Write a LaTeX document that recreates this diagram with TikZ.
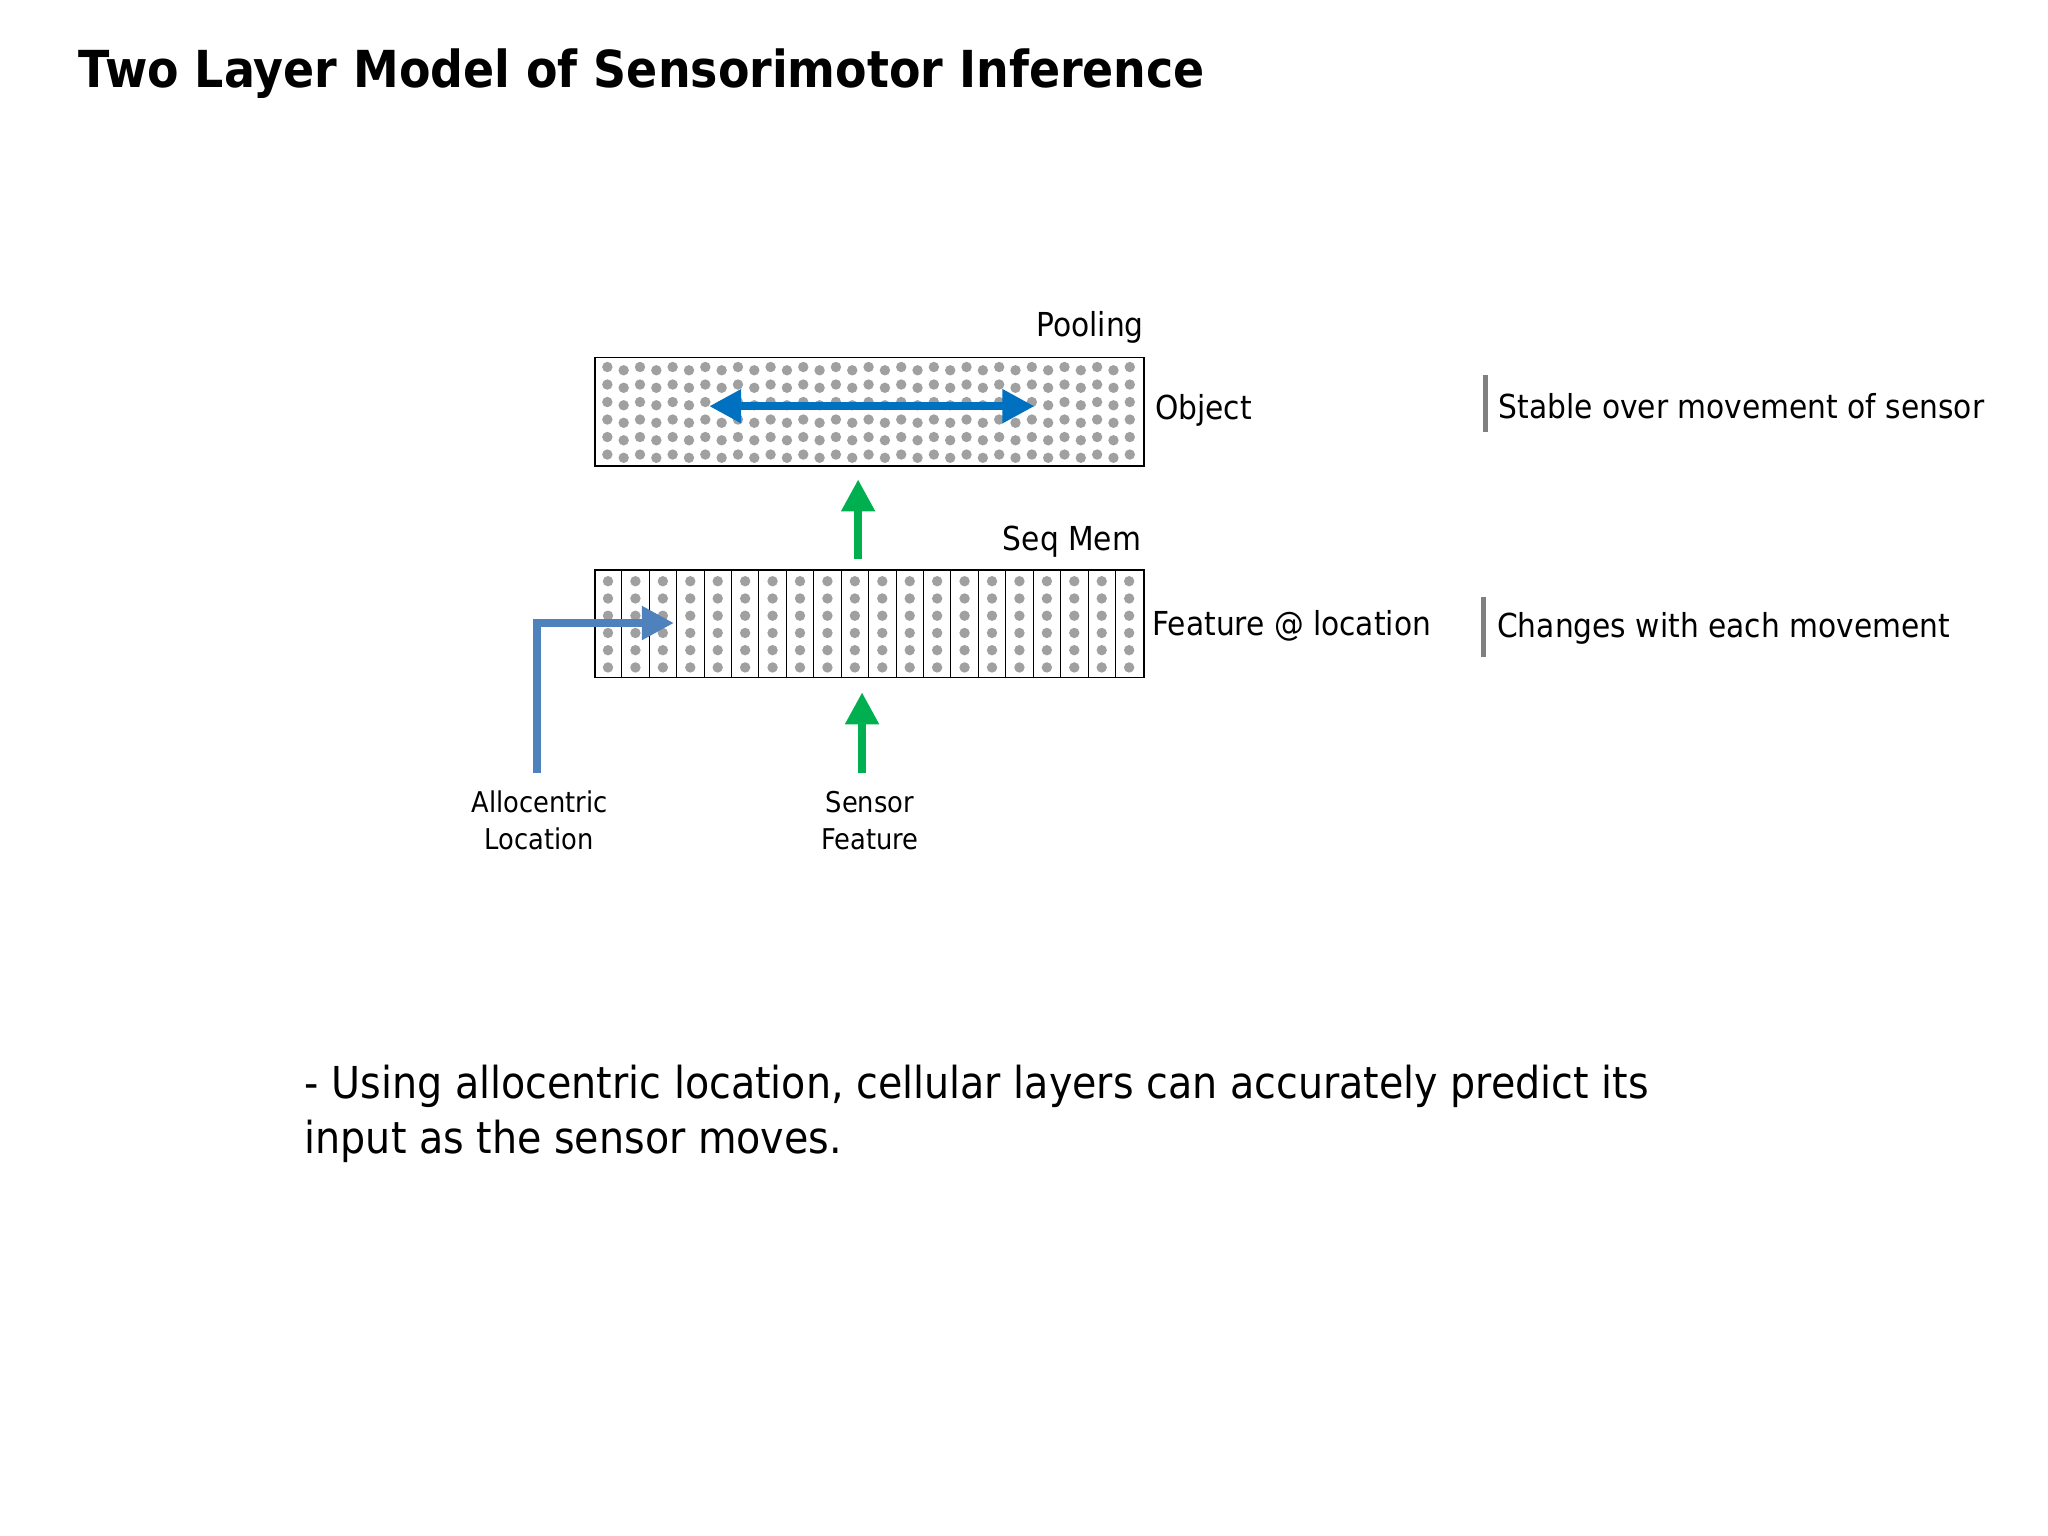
\documentclass[tikz,border=0pt]{standalone}
\usepackage{fontspec}
\setmainfont{DejaVu Sans}[FakeStretch=0.9]
\usetikzlibrary{arrows.meta}
\definecolor{dotg}{RGB}{160,160,160}
\definecolor{bluA}{RGB}{0,112,192}
\definecolor{bluB}{RGB}{79,129,189}
\definecolor{grn}{RGB}{0,176,80}
\definecolor{barg}{RGB}{128,128,128}
\begin{document}
\begin{tikzpicture}[x=0.653pt,y=-0.653pt,
  lbl/.style={inner sep=0pt,font=\fontsize{16.5}{20}\selectfont},
  small/.style={inner sep=0pt,align=center,font=\fontsize{14.3}{18.5}\selectfont},
  layer/.style={draw=black,line width=0.9pt,inner sep=0pt,minimum width=420*0.653pt},
  fat/.style={line width=6*0.653pt,-{Triangle[length=16pt,width=16pt]}},
  bar/.style={barg,line width=2.5pt}]
\useasboundingbox (0,0) rectangle (1568,1176);
\node[anchor=west,inner sep=0pt,font=\bfseries\fontsize{25.5}{30}\selectfont] (title) at (60,56) {Two Layer Model of Sensorimotor Inference};
% top layer
\node[layer,minimum height=83*0.653pt,anchor=north west] (top) at (455,273) {};
\foreach \i in {0,...,32}{\foreach \j in {0,...,5}{
  \pgfmathsetmacro{\yy}{281+\j*13.4+(mod(\i,2)==0?0:2.5)}
  \fill[dotg] ({465+\i*12.5},\yy) circle (2.6pt);}}
% bottom layer
\node[layer,minimum height=82*0.653pt,anchor=north west] (bot) at (455,436) {};
\foreach \k in {1,...,19}{\draw[line width=0.45pt] ({455+\k*21},436) -- ({455+\k*21},518);}
\foreach \i in {0,...,19}{\foreach \j in {0,...,5}{
  \fill[dotg] ({465.5+\i*21},{445+\j*13.2}) circle (2.6pt);}}
% arrows
\coordinate (pl) at (543,311); \coordinate (pr) at (792,311);
\draw[bluA,line width=6*0.653pt,{Triangle[length=16pt,width=16pt]}-{Triangle[length=16pt,width=16pt]}] (pl) -- (pr);
\coordinate (g1s) at (657,428); \coordinate (g1e) at (657,367);
\draw[grn,fat] (g1s) -- (g1e);
\coordinate (g2s) at (660,592); \coordinate (g2e) at (660,530);
\draw[grn,fat] (g2s) -- (g2e);
\coordinate (bs) at (411,592); \coordinate (be) at (516,477);
\draw[bluB,fat] (bs) |- (be);
% labels
\node[lbl,anchor=east] (pool) at (876,251) {Pooling};
\node[lbl,anchor=west] (obj) at (884,314) {Object};
\node[lbl,anchor=east] (seq) at (874,415) {Seq Mem};
\node[lbl,anchor=west] (feat) at (882,479) {Feature @ location};
\node[small] (allo) at (413,628) {Allocentric\\Location};
\node[small] (sens) at (666,628) {Sensor\\Feature};
\coordinate (b1a) at (1137,287); \coordinate (b1b) at (1137,331);
\draw[bar] (b1a) -- (b1b);
\coordinate (b2a) at (1136,457); \coordinate (b2b) at (1136,503);
\draw[bar] (b2a) -- (b2b);
\node[lbl,anchor=west] (stable) at (1147,311) {Stable over movement of sensor};
\node[lbl,anchor=west] (chg) at (1146,481) {Changes with each movement};
\node[anchor=north west,inner sep=0pt,align=left,font=\fontsize{22}{27.5}\selectfont] (txt) at (233,815) {- Using allocentric location, cellular layers can accurately predict its\\input as the sensor moves.};
\end{tikzpicture}
\end{document}
